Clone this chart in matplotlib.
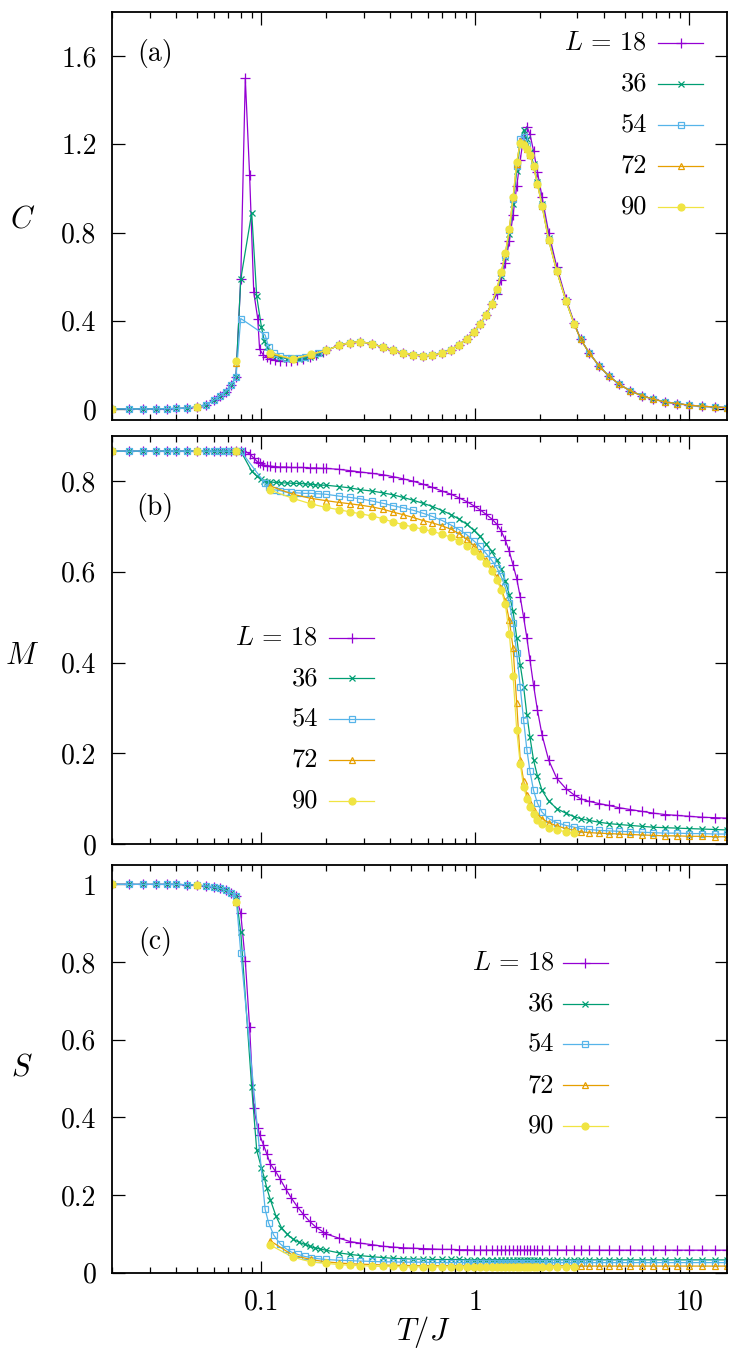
import matplotlib
matplotlib.use("Agg")
import matplotlib.pyplot as plt
from matplotlib.ticker import FixedLocator, LogLocator, NullFormatter, FuncFormatter

# =====================================================
# Data
# =====================================================

# shared temperature pieces
T_low = [0.020, 0.024, 0.028, 0.032, 0.036, 0.040, 0.045, 0.050, 0.055, 0.060,
         0.064, 0.068, 0.072, 0.076]
T_few = [0.020, 0.050, 0.076]
T_pk18 = [0.080, 0.084, 0.088, 0.092, 0.096, 0.098, 0.102, 0.106, 0.110, 0.116,
          0.122, 0.130, 0.138, 0.147, 0.157, 0.168, 0.180, 0.193]
T_pk36 = [0.080, 0.090, 0.095, 0.100, 0.103, 0.106, 0.110, 0.117, 0.124, 0.132,
          0.140, 0.149, 0.159, 0.168, 0.177, 0.188]
T_pk54 = [0.080, 0.104, 0.108, 0.114, 0.122, 0.130, 0.138, 0.148, 0.159, 0.170, 0.184]
T_pk_big = [0.110, 0.140, 0.170]
T_mid_a = [0.20, 0.23, 0.26, 0.29, 0.33, 0.37, 0.41, 0.46, 0.51, 0.57, 0.63, 0.70,
           0.77, 0.84, 0.91, 0.98, 1.05, 1.12, 1.19]
T_mid_b = [1.26, 1.32, 1.38, 1.44, 1.50, 1.56, 1.62, 1.68, 1.74, 1.80, 1.87, 1.95,
           2.05, 2.20, 2.40, 2.65, 2.90]
T_high = [3.1, 3.4, 3.8, 4.2, 4.7, 5.3, 6.0, 6.8, 7.7, 8.8, 10.0, 11.5, 13.2, 15.0]

# specific heat C
C_low = [0.000, 0.000, 0.000, 0.000, 0.001, 0.002, 0.004, 0.009, 0.019, 0.040,
         0.058, 0.078, 0.108, 0.145]
C_few72 = [0.000, 0.009, 0.210]
C_few90 = [0.000, 0.009, 0.218]
C_pk18 = [0.590, 1.500, 1.060, 0.530, 0.410, 0.270, 0.245, 0.235, 0.228, 0.222,
          0.218, 0.216, 0.217, 0.220, 0.226, 0.234, 0.245, 0.256]
C_pk36 = [0.589, 0.889, 0.510, 0.370, 0.310, 0.279, 0.255, 0.240, 0.232, 0.228,
          0.226, 0.227, 0.231, 0.237, 0.244, 0.253]
C_pk54 = [0.410, 0.335, 0.280, 0.255, 0.240, 0.232, 0.230, 0.232, 0.236, 0.243, 0.253]
C_pk72 = [0.250, 0.226, 0.246]
C_pk90 = [0.255, 0.226, 0.249]
C_mid_a = [0.265, 0.288, 0.301, 0.305, 0.295, 0.280, 0.266, 0.254, 0.246, 0.241,
           0.243, 0.253, 0.268, 0.292, 0.318, 0.350, 0.385, 0.425, 0.475]
C_mid_b18 = [0.520, 0.585, 0.660, 0.760, 0.880, 1.010, 1.130, 1.230, 1.280, 1.245,
             1.170, 1.075, 0.960, 0.800, 0.645, 0.500, 0.390]
C_mid_b36 = [0.535, 0.605, 0.690, 0.795, 0.930, 1.080, 1.200, 1.265, 1.225, 1.165,
             1.110, 1.030, 0.930, 0.775, 0.628, 0.492, 0.385]
C_mid_b54 = [0.540, 0.615, 0.700, 0.810, 0.950, 1.100, 1.225, 1.235, 1.190, 1.150,
             1.100, 1.020, 0.922, 0.768, 0.626, 0.490, 0.384]
C_mid_b72 = [0.545, 0.620, 0.705, 0.815, 0.960, 1.110, 1.215, 1.205, 1.180, 1.150,
             1.100, 1.020, 0.920, 0.765, 0.625, 0.490, 0.383]
C_mid_b90 = [0.545, 0.620, 0.705, 0.815, 0.960, 1.120, 1.205, 1.195, 1.180, 1.150,
             1.100, 1.020, 0.920, 0.765, 0.625, 0.490, 0.383]
C_high = [0.317, 0.255, 0.193, 0.150, 0.112, 0.082, 0.060, 0.044, 0.032, 0.024,
          0.017, 0.012, 0.009, 0.006]

# magnetisation M
M_low = [0.866, 0.866, 0.866, 0.866, 0.866, 0.866, 0.866, 0.866, 0.866, 0.866,
         0.866, 0.866, 0.866, 0.866]
M_few = [0.866, 0.866, 0.866]
M_pk18 = [0.866, 0.865, 0.860, 0.851, 0.842, 0.839, 0.836, 0.834, 0.833, 0.832,
          0.831, 0.831, 0.830, 0.830, 0.830, 0.829, 0.829, 0.828]
M_pk36 = [0.866, 0.822, 0.811, 0.804, 0.801, 0.799, 0.798, 0.797, 0.796, 0.796,
          0.795, 0.795, 0.794, 0.793, 0.792, 0.791]
M_pk54 = [0.866, 0.795, 0.786, 0.781, 0.779, 0.776, 0.775, 0.774, 0.773, 0.773, 0.772]
M_pk72 = [0.789, 0.771, 0.762]
M_pk90 = [0.780, 0.762, 0.750]
M_mid18 = [0.828, 0.826, 0.823, 0.820, 0.817, 0.814, 0.810, 0.805, 0.800, 0.793,
           0.786, 0.778, 0.771, 0.763, 0.755, 0.746, 0.737, 0.727, 0.717, 0.705,
           0.690, 0.670, 0.645, 0.615, 0.585, 0.545, 0.500, 0.455, 0.405, 0.350,
           0.295, 0.240, 0.185, 0.145, 0.122, 0.108]
M_mid36 = [0.791, 0.788, 0.785, 0.781, 0.778, 0.774, 0.770, 0.764, 0.758, 0.751,
           0.744, 0.735, 0.726, 0.716, 0.705, 0.692, 0.678, 0.662, 0.645, 0.626,
           0.606, 0.580, 0.550, 0.513, 0.455, 0.395, 0.347, 0.285, 0.235, 0.185,
           0.150, 0.118, 0.095, 0.078, 0.068, 0.060]
M_mid54 = [0.771, 0.767, 0.764, 0.761, 0.756, 0.751, 0.746, 0.741, 0.736, 0.729,
           0.722, 0.713, 0.703, 0.693, 0.682, 0.669, 0.656, 0.641, 0.626, 0.609,
           0.590, 0.566, 0.532, 0.488, 0.420, 0.347, 0.273, 0.208, 0.160, 0.118,
           0.090, 0.070, 0.056, 0.047, 0.041, 0.037]
M_mid72 = [0.757, 0.753, 0.750, 0.747, 0.743, 0.738, 0.732, 0.726, 0.720, 0.713,
           0.708, 0.701, 0.694, 0.684, 0.672, 0.658, 0.642, 0.625, 0.608, 0.589,
           0.565, 0.535, 0.494, 0.432, 0.310, 0.185, 0.140, 0.107, 0.090, 0.076,
           0.065, 0.056, 0.047, 0.040, 0.034, 0.030]
M_mid90 = [0.742, 0.737, 0.732, 0.728, 0.723, 0.717, 0.710, 0.704, 0.699, 0.694,
           0.689, 0.683, 0.676, 0.668, 0.658, 0.647, 0.634, 0.619, 0.602, 0.582,
           0.560, 0.528, 0.464, 0.370, 0.251, 0.177, 0.126, 0.100, 0.082, 0.067,
           0.054, 0.044, 0.036, 0.031, 0.027, 0.024]
M_high18 = [0.100, 0.094, 0.089, 0.085, 0.080, 0.076, 0.072, 0.068, 0.065, 0.063,
            0.061, 0.059, 0.058, 0.057]
M_high36 = [0.056, 0.052, 0.048, 0.045, 0.043, 0.041, 0.039, 0.037, 0.036, 0.035,
            0.034, 0.033, 0.032, 0.031]
M_high54 = [0.034, 0.032, 0.030, 0.029, 0.028, 0.027, 0.026, 0.025, 0.024, 0.024,
            0.023, 0.023, 0.022, 0.022]
M_high72 = [0.027, 0.025, 0.024, 0.023, 0.022, 0.021, 0.020, 0.019, 0.018, 0.018,
            0.017, 0.017, 0.016, 0.016]

# S
S_low = [1.000, 1.000, 1.000, 1.000, 1.000, 1.000, 0.999, 0.998, 0.996, 0.993,
         0.990, 0.985, 0.978, 0.970]
S_few = [1.000, 0.998, 0.955]
S_pk18 = [0.925, 0.803, 0.632, 0.423, 0.373, 0.355, 0.330, 0.305, 0.280, 0.262,
          0.242, 0.215, 0.192, 0.170, 0.150, 0.132, 0.117, 0.106]
S_pk36 = [0.877, 0.478, 0.315, 0.270, 0.245, 0.217, 0.188, 0.145, 0.116, 0.099,
          0.087, 0.079, 0.073, 0.068, 0.064, 0.061]
S_pk54 = [0.824, 0.163, 0.128, 0.097, 0.075, 0.062, 0.053, 0.047, 0.042, 0.039, 0.036]
S_pk72 = [0.082, 0.045, 0.034]
S_pk90 = [0.071, 0.040, 0.028]
S_mid18 = [0.100, 0.089, 0.080, 0.076, 0.072, 0.068, 0.066, 0.064, 0.063, 0.062,
           0.061, 0.060, 0.060, 0.059, 0.059, 0.058, 0.058, 0.058, 0.058, 0.058,
           0.058, 0.058, 0.058, 0.058, 0.058, 0.058, 0.058, 0.058, 0.058, 0.058,
           0.058, 0.058, 0.058, 0.058, 0.058, 0.058]
S_mid36 = [0.058, 0.051, 0.047, 0.044, 0.041, 0.039, 0.037, 0.036, 0.035, 0.035,
           0.034, 0.034, 0.034, 0.034, 0.033, 0.033, 0.033, 0.033, 0.033, 0.033,
           0.033, 0.033, 0.033, 0.033, 0.033, 0.033, 0.033, 0.033, 0.033, 0.033,
           0.033, 0.033, 0.033, 0.033, 0.033, 0.033]
S_mid54 = [0.034, 0.032, 0.031, 0.030, 0.029, 0.028, 0.028, 0.027, 0.027, 0.027,
           0.026, 0.026, 0.026, 0.026, 0.026, 0.026, 0.026, 0.026, 0.026, 0.026,
           0.026, 0.026, 0.026, 0.026, 0.026, 0.026, 0.026, 0.026, 0.026, 0.026,
           0.026, 0.026, 0.026, 0.026, 0.026, 0.026]
S_mid72 = [0.028, 0.025, 0.023, 0.022, 0.021, 0.020, 0.019, 0.019, 0.018, 0.018,
           0.018, 0.018, 0.018, 0.018, 0.018, 0.018, 0.018, 0.018, 0.018, 0.018,
           0.018, 0.018, 0.018, 0.018, 0.018, 0.018, 0.018, 0.018, 0.018, 0.018,
           0.018, 0.018, 0.018, 0.018, 0.018, 0.018]
S_mid90 = [0.024, 0.021, 0.019, 0.018, 0.017, 0.016, 0.016, 0.015, 0.015, 0.015,
           0.015, 0.015, 0.015, 0.015, 0.015, 0.015, 0.015, 0.015, 0.015, 0.015,
           0.015, 0.015, 0.014, 0.014, 0.014, 0.014, 0.014, 0.014, 0.014, 0.014,
           0.014, 0.014, 0.014, 0.014, 0.014, 0.014]
S_high18 = [0.058, 0.058, 0.058, 0.058, 0.058, 0.058, 0.058, 0.058, 0.058, 0.058,
            0.058, 0.058, 0.058, 0.058]
S_high36 = [0.033, 0.033, 0.033, 0.033, 0.033, 0.033, 0.033, 0.033, 0.033, 0.033,
            0.033, 0.033, 0.033, 0.033]
S_high54 = [0.026, 0.026, 0.026, 0.026, 0.026, 0.026, 0.026, 0.026, 0.026, 0.026,
            0.026, 0.026, 0.026, 0.026]
S_high72 = [0.017, 0.017, 0.017, 0.017, 0.017, 0.017, 0.017, 0.017, 0.017, 0.017,
            0.017, 0.017, 0.017, 0.017]

labels = [r"$L\,=\,18$", "36", "54", "72", "90"]

# assemble series (connected part); L = 72, 90 also have a few isolated low-T points
T_series = [
    T_low + T_pk18 + T_mid_a + T_mid_b + T_high,
    T_low + T_pk36 + T_mid_a + T_mid_b + T_high,
    T_low + T_pk54 + T_mid_a + T_mid_b + T_high,
    T_pk_big + T_mid_a + T_mid_b + T_high,
    T_pk_big + T_mid_a + T_mid_b,
]
C_series = [
    C_low + C_pk18 + C_mid_a + C_mid_b18 + C_high,
    C_low + C_pk36 + C_mid_a + C_mid_b36 + C_high,
    C_low + C_pk54 + C_mid_a + C_mid_b54 + C_high,
    C_pk72 + C_mid_a + C_mid_b72 + C_high,
    C_pk90 + C_mid_a + C_mid_b90,
]
M_series = [
    M_low + M_pk18 + M_mid18 + M_high18,
    M_low + M_pk36 + M_mid36 + M_high36,
    M_low + M_pk54 + M_mid54 + M_high54,
    M_pk72 + M_mid72 + M_high72,
    M_pk90 + M_mid90,
]
S_series = [
    S_low + S_pk18 + S_mid18 + S_high18,
    S_low + S_pk36 + S_mid36 + S_high36,
    S_low + S_pk54 + S_mid54 + S_high54,
    S_pk72 + S_mid72 + S_high72,
    S_pk90 + S_mid90,
]
C_isolated = [None, None, None, C_few72, C_few90]
M_isolated = [None, None, None, M_few, M_few]
S_isolated = [None, None, None, S_few, S_few]

# =====================================================
# Style
# =====================================================

plt.rcParams["font.family"] = ["cmr10", "DejaVu Serif"]
plt.rcParams["mathtext.fontset"] = "cm"
plt.rcParams["axes.formatter.use_mathtext"] = True
plt.rcParams["axes.unicode_minus"] = False

colors = ["#9400D3", "#009E73", "#56B4E9", "#E69F00", "#F0E442"]
styles = [
    dict(marker="+", ms=6.5, mew=0.9, mfc="none"),
    dict(marker="x", ms=5.0, mew=0.9, mfc="none"),
    dict(marker="s", ms=5.0, mew=0.9, mfc="none"),
    dict(marker="^", ms=5.0, mew=0.9, mfc="none"),
    dict(marker="o", ms=5.0, mew=0.9),
]

fig = plt.figure(figsize=(7.47, 13.6), dpi=100)
ax_c = fig.add_axes([0.1499, 0.6912, 0.8233, 0.3000])
ax_m = fig.add_axes([0.1499, 0.3794, 0.8233, 0.3002])
ax_s = fig.add_axes([0.1499, 0.0642, 0.8233, 0.2998])

panels = [
    (ax_c, C_series, C_isolated, "$C$", (-0.05, 1.8), [0, 0.4, 0.8, 1.2, 1.6], "(a)",
     0.897, 0.49, 0.870, 0.888, 0.961, [0.924, 0.824, 0.723, 0.623, 0.522]),
    (ax_m, M_series, M_isolated, "$M$", (0, 0.9), [0, 0.2, 0.4, 0.6, 0.8], "(b)",
     0.825, 0.46, 0.335, 0.353, 0.426, [0.505, 0.406, 0.306, 0.206, 0.106]),
    (ax_s, S_series, S_isolated, "$S$", (0, 1.05), [0, 0.2, 0.4, 0.6, 0.8, 1.0], "(c)",
     0.812, 0.503, 0.719, 0.733, 0.806, [0.760, 0.660, 0.561, 0.460, 0.360]),
]

for (ax, ys, iso, ylab, ylim, yticks, tag, tag_y, lab_y,
     key_tx, key_x0, key_x1, key_rows) in panels:

    for i in range(5):
        ax.plot(T_series[i], ys[i], color=colors[i], lw=0.9, **styles[i])
        if iso[i] is not None:
            ax.plot(T_few, iso[i], color=colors[i], ls="none", **styles[i])

    ax.set_xscale("log")
    ax.set_xlim(0.02, 15)
    ax.set_ylim(*ylim)

    ax.xaxis.set_major_locator(FixedLocator([0.1, 1, 10]))
    ax.xaxis.set_minor_locator(LogLocator(base=10, subs=[2, 3, 4, 5, 6, 7, 8, 9], numticks=20))
    ax.xaxis.set_minor_formatter(NullFormatter())
    ax.xaxis.set_major_formatter(FuncFormatter(lambda v, p: f"{v:g}"))
    ax.yaxis.set_major_locator(FixedLocator(yticks))
    ax.yaxis.set_major_formatter(FuncFormatter(lambda v, p: f"{v:g}"))

    ax.tick_params(which="both", direction="in", top=True, right=True,
                   width=0.9, labelsize=20)
    ax.tick_params(which="major", length=9)
    ax.tick_params(which="minor", length=4.5)
    ax.tick_params(axis="y", pad=11)
    ax.tick_params(axis="x", pad=12)
    for sp in ax.spines.values():
        sp.set_linewidth(1.3)

    ax.set_ylabel(ylab, rotation=0, fontsize=22)
    ax.yaxis.set_label_coords(-0.146, lab_y)
    ax.yaxis.label.set_ha("center")
    ax.yaxis.label.set_va("center")

    ax.text(0.07, tag_y, tag, transform=ax.transAxes, ha="center", va="center",
            fontsize=20)

    # key drawn gnuplot style: right-aligned text, then sample line with a marker
    for i in range(5):
        yk = key_rows[i]
        ax.plot([key_x0, key_x1], [yk, yk], transform=ax.transAxes, color=colors[i],
                lw=0.9, clip_on=False)
        ax.plot([(key_x0 + key_x1) / 2], [yk], transform=ax.transAxes, color=colors[i],
                ls="none", clip_on=False, **styles[i])
        ax.text(key_tx, yk, labels[i], transform=ax.transAxes, ha="right",
                va="center", fontsize=19)

ax_c.tick_params(axis="x", labelbottom=False)
ax_m.tick_params(axis="x", labelbottom=False)

ax_s.set_xlabel("$T/J$", fontsize=22)
ax_s.xaxis.set_label_coords(0.506, -0.145)
ax_s.xaxis.label.set_va("center")

fig.savefig("out.png", dpi=100)
